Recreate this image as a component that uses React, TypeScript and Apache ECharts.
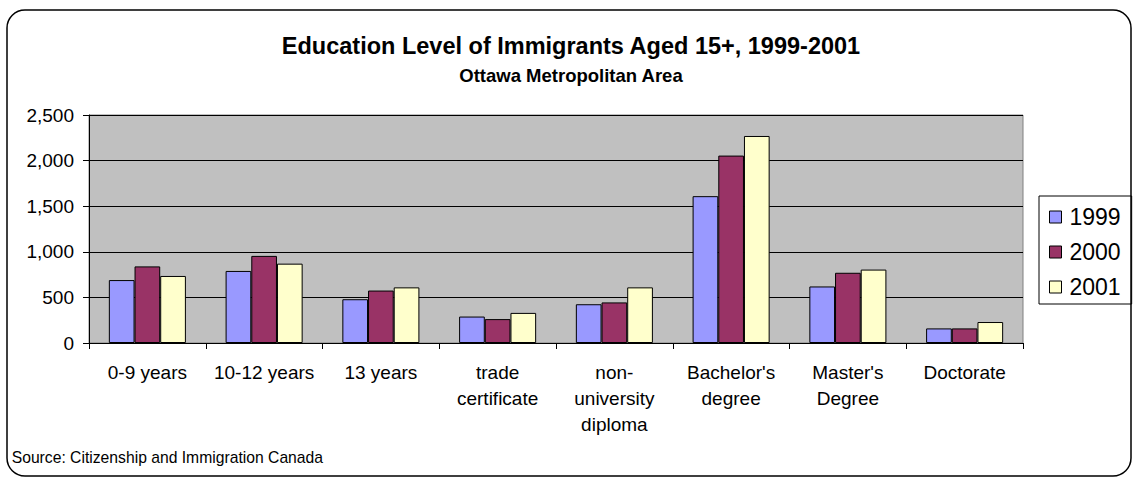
import React, { useEffect, useRef } from "react";
import * as echarts from "echarts";

const categories = [
  "0-9 years",
  "10-12 years",
  "13 years",
  "trade\ncertificate",
  "non-\nuniversity\ndiploma",
  "Bachelor's\ndegree",
  "Master's\nDegree",
  "Doctorate",
];
const seriesNames = ["1999", "2000", "2001"];
const values1999 = [690, 790, 480, 290, 425, 1610, 620, 160];
const values2000 = [840, 955, 575, 262, 445, 2055, 770, 160];
const values2001 = [735, 870, 610, 330, 610, 2270, 805, 230];
const yTicks = [0, 500, 1000, 1500, 2000, 2500];

const titleText = "Education Level of Immigrants Aged 15+, 1999-2001";
const subtitleText = "Ottawa Metropolitan Area";
const sourceText = "Source: Citizenship and Immigration Canada";

const FONT = "'Liberation Sans', Arial, sans-serif";
const colors = ["#9999FF", "#993366", "#FFFFCC"];

export default function App() {
  const ref = useRef<HTMLDivElement>(null);
  useEffect(() => {
    if (!ref.current) return;
    const chart = echarts.init(ref.current, undefined, { renderer: "svg" });
    const data = [values1999, values2000, values2001];
    chart.setOption({
      animation: false,
      backgroundColor: "#ffffff",
      textStyle: { fontFamily: FONT, color: "#000" },
      grid: {
        left: 89,
        right: 112,
        top: 115,
        bottom: 136,
        show: true,
        backgroundColor: "#C0C0C0",
        borderColor: "#808080",
        borderWidth: 1,
      },
      legend: {
        orient: "vertical",
        left: 1039,
        top: 196,
        borderColor: "#000",
        borderWidth: 1,
        backgroundColor: "#fff",
        padding: [9, 11, 5, 10],
        icon: "rect",
        itemWidth: 12,
        itemHeight: 12,
        itemGap: 11,
        itemStyle: { borderColor: "#000", borderWidth: 1 },
        textStyle: {
          fontSize: 23,
          lineHeight: 24,
          fontFamily: FONT,
          color: "#000",
          padding: [0, 0, 0, 3],
        },
        data: seriesNames,
      },
      xAxis: {
        type: "category",
        data: categories,
        axisLine: { show: true, lineStyle: { color: "#000", width: 1 } },
        axisTick: { show: true, length: 6, lineStyle: { color: "#000" } },
        axisLabel: {
          interval: 0,
          fontSize: 19,
          lineHeight: 26.3,
          margin: 16,
          color: "#000",
          fontFamily: FONT,
        },
        splitLine: { show: false },
      },
      yAxis: {
        type: "value",
        min: yTicks[0],
        max: yTicks[yTicks.length - 1],
        interval: 500,
        axisLine: { show: true, lineStyle: { color: "#000", width: 1 } },
        axisTick: { show: true, length: 6, lineStyle: { color: "#000" } },
        axisLabel: {
          fontSize: 19,
          margin: 15,
          color: "#000",
          fontFamily: FONT,
          formatter: (v: number) => v.toLocaleString("en-US"),
        },
        splitLine: { show: true, lineStyle: { color: "#000", width: 1 } },
      },
      series: seriesNames.map((name, i) => ({
        name,
        type: "bar",
        data: data[i],
        barGap: "0%",
        barCategoryGap: "34%",
        itemStyle: { color: colors[i], borderColor: "#000", borderWidth: 1 },
      })),
      graphic: [
        {
          type: "rect",
          shape: { x: 7, y: 10, width: 1124, height: 466, r: 18 },
          style: { fill: "none", stroke: "#000", lineWidth: 1.5 },
          silent: true,
          z: 100,
        },
        {
          type: "text",
          x: 571,
          y: 46,
          style: {
            text: titleText,
            font: `bold 23.5px ${FONT}`,
            fill: "#000",
            textAlign: "center",
            textVerticalAlign: "middle",
            align: "center",
            verticalAlign: "middle",
          },
        },
        {
          type: "text",
          x: 571,
          y: 75,
          style: {
            text: subtitleText,
            font: `bold 18.5px ${FONT}`,
            fill: "#000",
            textAlign: "center",
            textVerticalAlign: "middle",
            align: "center",
            verticalAlign: "middle",
          },
        },
        {
          type: "text",
          x: 11.7,
          y: 457,
          style: {
            text: sourceText,
            font: `15.7px ${FONT}`,
            fill: "#000",
            textAlign: "left",
            textVerticalAlign: "middle",
            align: "left",
            verticalAlign: "middle",
          },
        },
      ],
    });
    return () => chart.dispose();
  }, []);
  return (
    <div
      ref={ref}
      style={{ position: "absolute", left: 0, top: 0, width: 1135, height: 479 }}
    />
  );
}
